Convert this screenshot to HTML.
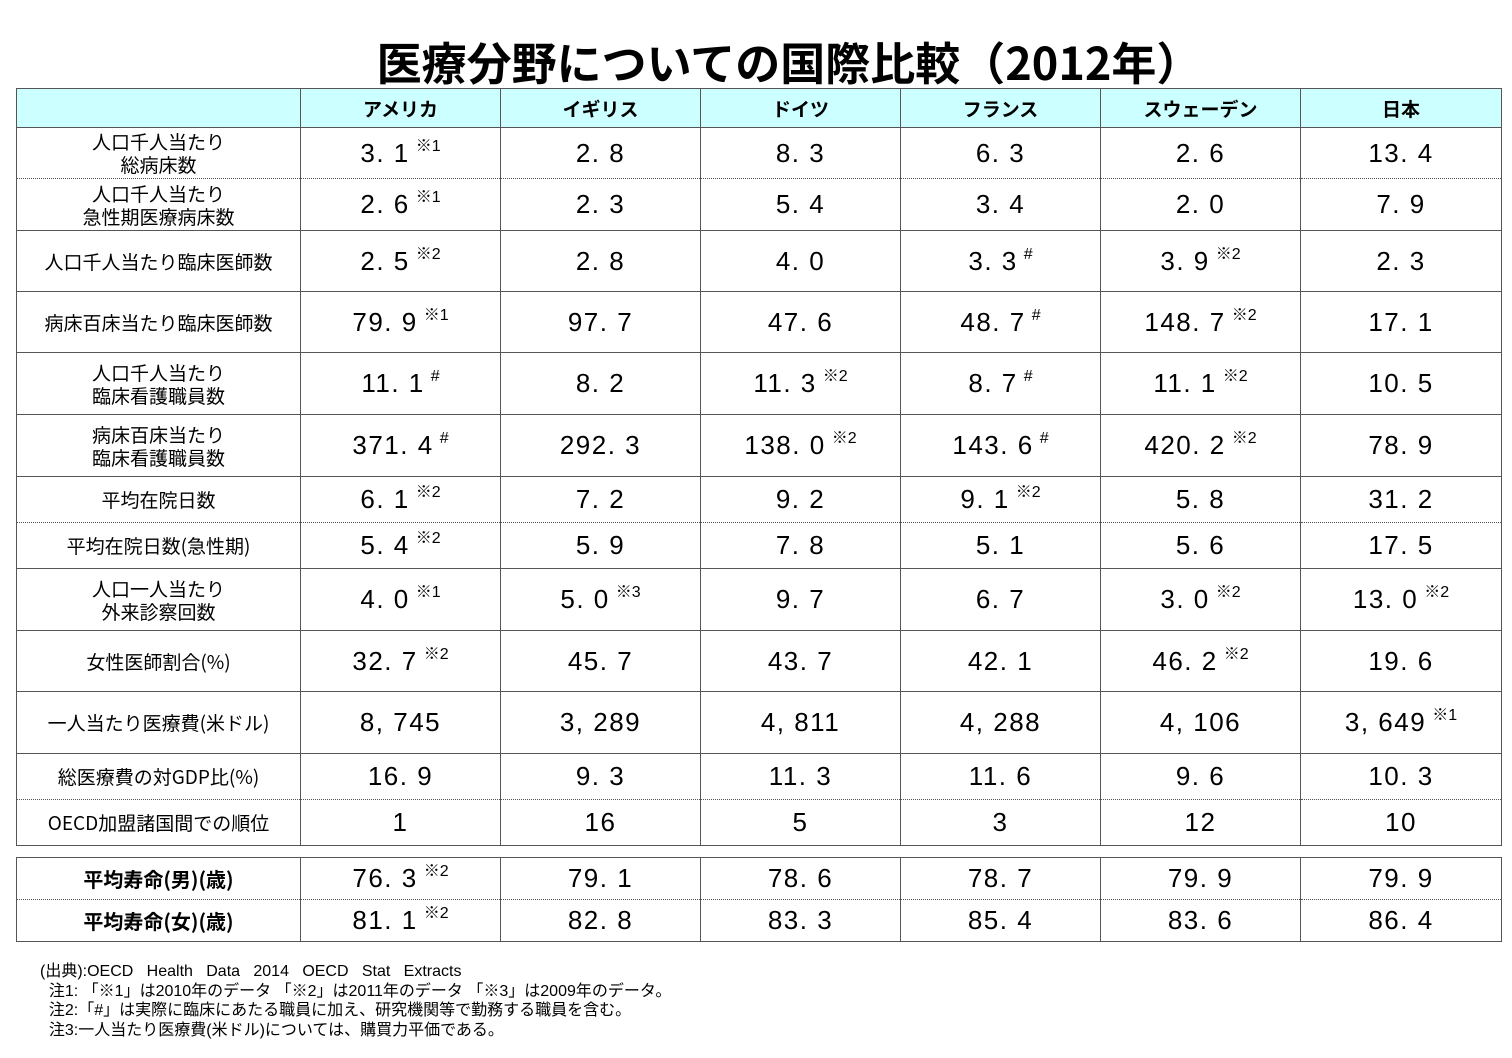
<!DOCTYPE html>
<html><head><meta charset="utf-8"><style>
body{margin:0;background:#fff;width:1512px;height:1058px;position:relative;font-family:"Liberation Sans","Noto Sans CJK JP",sans-serif;color:#000;overflow:hidden}
.title{position:absolute;left:0;width:1578px;top:33px;text-align:center;font-size:45px;font-weight:bold;line-height:56px;font-family:"Noto Sans CJK JP",sans-serif}
table{position:absolute;left:16px;border-collapse:collapse;table-layout:fixed}
td{border:1px solid #555;text-align:center;padding:0;overflow:visible;white-space:nowrap}
td.l{font-size:19px;line-height:23px;font-family:"Noto Sans CJK JP",sans-serif}
td.v{font-size:26px;letter-spacing:1.5px}
.h td{background:#ccffff;font-weight:bold;font-size:19px;font-family:"Noto Sans CJK JP",sans-serif;height:38px}
.dt td{border-bottom:1px dotted #555}
.dn td{border-top:1px dotted #555}
sup{font-size:16px;letter-spacing:0;vertical-align:0;position:relative;top:-11px;margin-left:6px;font-family:"Liberation Sans","Noto Sans CJK JP",sans-serif}
.b td.l{font-weight:bold;font-size:20px}
.notes{position:absolute;left:40px;top:962px;font-size:16px;line-height:19.5px;font-family:"Liberation Sans","Noto Sans CJK JP",sans-serif}
</style></head><body>
<div class="title">医療分野についての国際比較（2012年）</div>
<table style="top:88px">
<colgroup><col style="width:284px"><col style="width:200px"><col style="width:200px"><col style="width:200px"><col style="width:200px"><col style="width:200px"><col style="width:201px"></colgroup>
<tr class="h"><td></td><td>アメリカ</td><td>イギリス</td><td>ドイツ</td><td>フランス</td><td>スウェーデン</td><td>日本</td></tr>
<tr class="dt" style="height:51px"><td class="l">人口千人当たり<br>総病床数</td><td class="v">3. 1<sup>※1</sup></td><td class="v">2. 8</td><td class="v">8. 3</td><td class="v">6. 3</td><td class="v">2. 6</td><td class="v">13. 4</td></tr>
<tr class="dn" style="height:52px"><td class="l">人口千人当たり<br>急性期医療病床数</td><td class="v">2. 6<sup>※1</sup></td><td class="v">2. 3</td><td class="v">5. 4</td><td class="v">3. 4</td><td class="v">2. 0</td><td class="v">7. 9</td></tr>
<tr style="height:61px"><td class="l">人口千人当たり臨床医師数</td><td class="v">2. 5<sup>※2</sup></td><td class="v">2. 8</td><td class="v">4. 0</td><td class="v">3. 3<sup>#</sup></td><td class="v">3. 9<sup>※2</sup></td><td class="v">2. 3</td></tr>
<tr style="height:61px"><td class="l">病床百床当たり臨床医師数</td><td class="v">79. 9<sup>※1</sup></td><td class="v">97. 7</td><td class="v">47. 6</td><td class="v">48. 7<sup>#</sup></td><td class="v">148. 7<sup>※2</sup></td><td class="v">17. 1</td></tr>
<tr style="height:62px"><td class="l">人口千人当たり<br>臨床看護職員数</td><td class="v">11. 1<sup>#</sup></td><td class="v">8. 2</td><td class="v">11. 3<sup>※2</sup></td><td class="v">8. 7<sup>#</sup></td><td class="v">11. 1<sup>※2</sup></td><td class="v">10. 5</td></tr>
<tr style="height:62px"><td class="l">病床百床当たり<br>臨床看護職員数</td><td class="v">371. 4<sup>#</sup></td><td class="v">292. 3</td><td class="v">138. 0<sup>※2</sup></td><td class="v">143. 6<sup>#</sup></td><td class="v">420. 2<sup>※2</sup></td><td class="v">78. 9</td></tr>
<tr class="dt" style="height:46px"><td class="l">平均在院日数</td><td class="v">6. 1<sup>※2</sup></td><td class="v">7. 2</td><td class="v">9. 2</td><td class="v">9. 1<sup>※2</sup></td><td class="v">5. 8</td><td class="v">31. 2</td></tr>
<tr class="dn" style="height:46px"><td class="l">平均在院日数(急性期)</td><td class="v">5. 4<sup>※2</sup></td><td class="v">5. 9</td><td class="v">7. 8</td><td class="v">5. 1</td><td class="v">5. 6</td><td class="v">17. 5</td></tr>
<tr style="height:62px"><td class="l">人口一人当たり<br>外来診察回数</td><td class="v">4. 0<sup>※1</sup></td><td class="v">5. 0<sup>※3</sup></td><td class="v">9. 7</td><td class="v">6. 7</td><td class="v">3. 0<sup>※2</sup></td><td class="v">13. 0<sup>※2</sup></td></tr>
<tr style="height:61px"><td class="l">女性医師割合(%)</td><td class="v">32. 7<sup>※2</sup></td><td class="v">45. 7</td><td class="v">43. 7</td><td class="v">42. 1</td><td class="v">46. 2<sup>※2</sup></td><td class="v">19. 6</td></tr>
<tr style="height:62px"><td class="l">一人当たり医療費(米ドル)</td><td class="v">8, 745</td><td class="v">3, 289</td><td class="v">4, 811</td><td class="v">4, 288</td><td class="v">4, 106</td><td class="v">3, 649<sup>※1</sup></td></tr>
<tr class="dt" style="height:46px"><td class="l">総医療費の対GDP比(%)</td><td class="v">16. 9</td><td class="v">9. 3</td><td class="v">11. 3</td><td class="v">11. 6</td><td class="v">9. 6</td><td class="v">10. 3</td></tr>
<tr class="dn" style="height:46px"><td class="l">OECD加盟諸国間での順位</td><td class="v">1</td><td class="v">16</td><td class="v">5</td><td class="v">3</td><td class="v">12</td><td class="v">10</td></tr>
</table>
<table style="top:857px">
<colgroup><col style="width:284px"><col style="width:200px"><col style="width:200px"><col style="width:200px"><col style="width:200px"><col style="width:200px"><col style="width:201px"></colgroup>
<tr class="dt b" style="height:42px"><td class="l">平均寿命(男)(歳)</td><td class="v">76. 3<sup>※2</sup></td><td class="v">79. 1</td><td class="v">78. 6</td><td class="v">78. 7</td><td class="v">79. 9</td><td class="v">79. 9</td></tr>
<tr class="dn b" style="height:42px"><td class="l">平均寿命(女)(歳)</td><td class="v">81. 1<sup>※2</sup></td><td class="v">82. 8</td><td class="v">83. 3</td><td class="v">85. 4</td><td class="v">83. 6</td><td class="v">86. 4</td></tr>
</table>
<div class="notes">(出典):OECD&nbsp;&nbsp; Health&nbsp;&nbsp; Data&nbsp;&nbsp; 2014&nbsp;&nbsp; OECD&nbsp;&nbsp; Stat&nbsp;&nbsp; Extracts<br>
&nbsp;&nbsp;注1:&nbsp;「※1」は2010年のデータ 「※2」は2011年のデータ 「※3」は2009年のデータ。<br>
&nbsp;&nbsp;注2:「#」は実際に臨床にあたる職員に加え、研究機関等で勤務する職員を含む。<br>
&nbsp;&nbsp;注3:一人当たり医療費(米ドル)については、購買力平価である。</div>
</body></html>
